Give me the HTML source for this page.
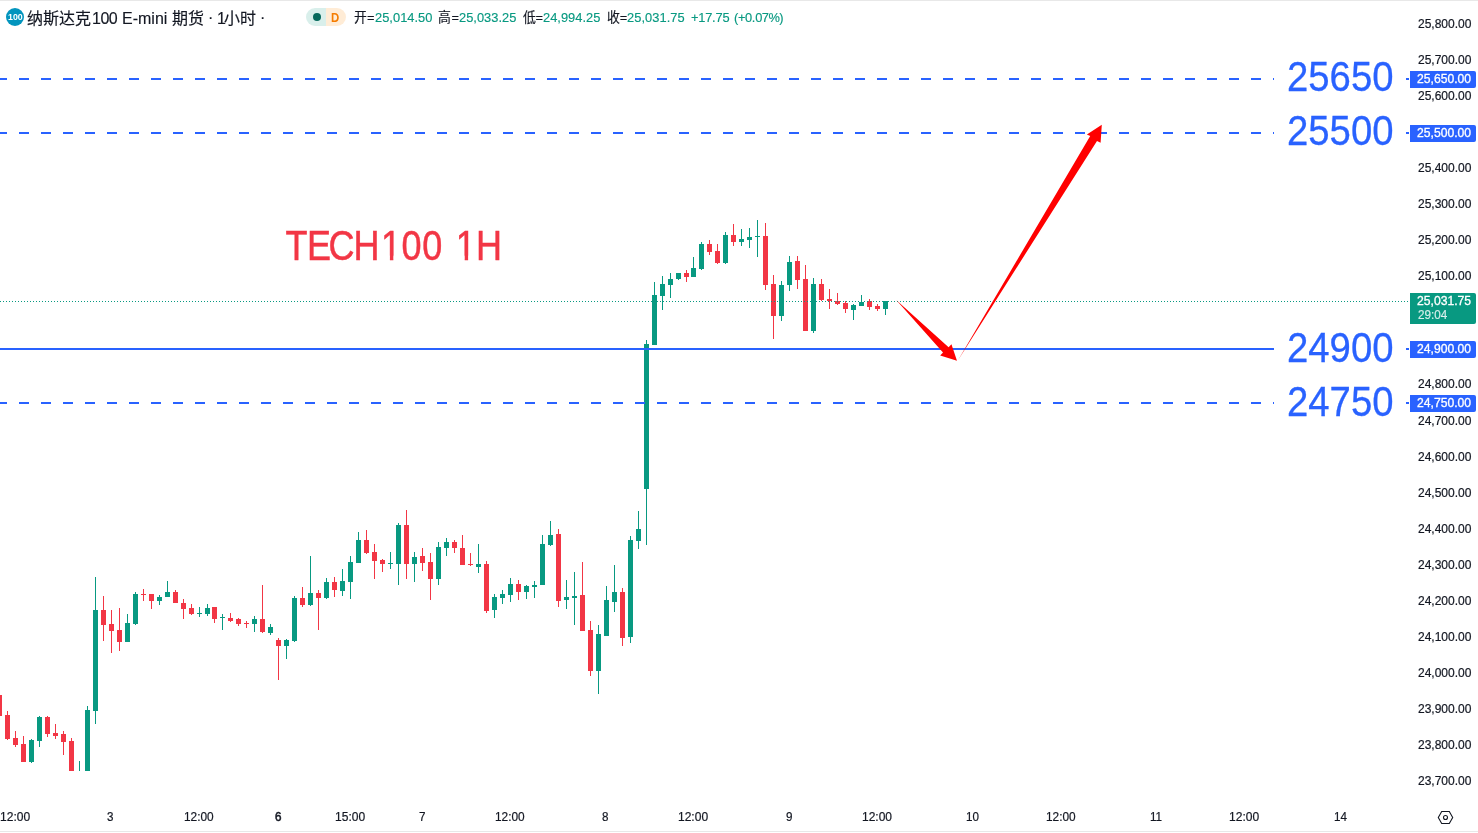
<!DOCTYPE html><html lang="zh-CN"><head><meta charset="utf-8"><title>TECH100 1H</title>
<style>
html,body{margin:0;padding:0;background:#fff;}
body{width:1478px;height:833px;overflow:hidden;position:relative;font-family:"Liberation Sans","Noto Sans CJK SC",sans-serif;color:#131722;}
#app{position:absolute;left:0;top:0;width:1478px;height:833px;overflow:hidden;background:#fff;}
.bt{position:absolute;left:0;top:0;width:1478px;height:1px;background:#e8e8e8;}
.bb{position:absolute;left:0;top:831px;width:1478px;height:1px;background:#e8e8e8;}
svg.chart{position:absolute;left:0;top:0;}
svg.chart text{font-family:"Liberation Sans","Noto Sans CJK SC",sans-serif;white-space:pre;}
.t{position:absolute;white-space:nowrap;line-height:1;transform-origin:0 0;}
.ax,.tm,.bx2{-webkit-text-stroke:0.2px currentColor;}
.bx,.big{-webkit-text-stroke:0.3px currentColor;}
.tmb{-webkit-text-stroke:0.55px currentColor;}
.lab{position:absolute;left:1410px;width:66px;border-radius:0 2px 2px 0;}
.logoc{position:absolute;left:6px;top:8px;width:18px;height:18px;border-radius:50%;background:#0395BE;}
.pill{position:absolute;left:306px;top:8px;width:40px;height:18px;border-radius:9px;overflow:hidden;background:linear-gradient(90deg,#d9efeb 0,#d9efeb 50%,#ffecd6 50%,#ffecd6 100%);}
.pill i{position:absolute;left:7px;top:5px;width:8px;height:8px;border-radius:50%;background:#06695c;}
</style></head><body><div id="app">
<div class="bt"></div><div class="bb"></div>
<svg class="chart" width="1478" height="833" viewBox="0 0 1478 833">
<defs><clipPath id="pane"><rect x="0" y="1" width="1410" height="770"/></clipPath></defs>
<g clip-path="url(#pane)" shape-rendering="crispEdges">
<path class="candles" fill="#089981" d="M31 739h1v24h-1zM29 740h5v22h-5zM39 716h1v31h-1zM37 717h5v24h-5zM79 761h1v29h-1zM77 785h5v5h-5zM87 706h1v84h-1zM85 710h5v80h-5zM95 577h1v147h-1zM93 610h5v101h-5zM127 614h1v28h-1zM125 623h5v19h-5zM135 592h1v33h-1zM133 594h5v30h-5zM159 595h1v10h-1zM157 597h5v4h-5zM167 581h1v16h-1zM165 592h5v5h-5zM199 607h1v10h-1zM197 613h5v1h-5zM207 604h1v12h-1zM205 608h5v6h-5zM222 614h1v16h-1zM220 617h5v1h-5zM254 616h1v16h-1zM252 619h5v5h-5zM270 624h1v11h-1zM268 627h5v6h-5zM286 639h1v20h-1zM284 640h5v6h-5zM294 596h1v46h-1zM292 598h5v43h-5zM310 556h1v50h-1zM308 593h5v12h-5zM326 578h1v21h-1zM324 582h5v16h-5zM342 569h1v27h-1zM340 581h5v10h-5zM350 556h1v43h-1zM348 562h5v20h-5zM358 532h1v31h-1zM356 540h5v23h-5zM390 552h1v17h-1zM388 563h5v1h-5zM398 523h1v62h-1zM396 525h5v39h-5zM414 552h1v30h-1zM412 557h5v7h-5zM438 542h1v43h-1zM436 547h5v32h-5zM446 538h1v18h-1zM444 542h5v6h-5zM478 544h1v29h-1zM476 564h5v3h-5zM494 594h1v24h-1zM492 597h5v13h-5zM502 590h1v14h-1zM500 594h5v4h-5zM510 578h1v24h-1zM508 584h5v11h-5zM526 585h1v14h-1zM524 586h5v6h-5zM534 581h1v17h-1zM532 585h5v2h-5zM542 535h1v50h-1zM540 544h5v41h-5zM550 521h1v25h-1zM548 535h5v10h-5zM566 580h1v29h-1zM564 597h5v3h-5zM574 572h1v53h-1zM572 596h5v2h-5zM598 625h1v69h-1zM596 634h5v37h-5zM606 586h1v50h-1zM604 600h5v36h-5zM614 565h1v47h-1zM612 592h5v10h-5zM630 536h1v107h-1zM628 540h5v97h-5zM638 511h1v38h-1zM636 529h5v12h-5zM646 340h1v205h-1zM644 344h5v145h-5zM654 282h1v63h-1zM652 295h5v50h-5zM662 276h1v34h-1zM660 284h5v12h-5zM670 273h1v25h-1zM668 279h5v6h-5zM678 273h1v7h-1zM676 273h5v6h-5zM693 257h1v20h-1zM691 268h5v9h-5zM701 242h1v28h-1zM699 244h5v25h-5zM725 232h1v32h-1zM723 235h5v28h-5zM741 229h1v17h-1zM739 239h5v3h-5zM749 228h1v20h-1zM747 237h5v3h-5zM757 220h1v37h-1zM755 236h5v1h-5zM781 281h1v40h-1zM779 285h5v31h-5zM789 256h1v35h-1zM787 262h5v23h-5zM813 278h1v55h-1zM811 284h5v47h-5zM853 304h1v16h-1zM851 305h5v5h-5zM861 295h1v11h-1zM859 302h5v4h-5zM885 301h1v14h-1zM883 301h5v8h-5z"/>
<path class="candles" fill="#F23645" d="M-1 695h1v21h-1zM-3 695h5v21h-5zM7 711h1v29h-1zM5 715h5v24h-5zM15 731h1v16h-1zM13 738h5v7h-5zM23 736h1v26h-1zM21 744h5v18h-5zM47 716h1v21h-1zM45 717h5v17h-5zM55 724h1v15h-1zM53 733h5v3h-5zM63 731h1v24h-1zM61 734h5v8h-5zM71 738h1v52h-1zM69 741h5v49h-5zM103 596h1v45h-1zM101 610h5v15h-5zM111 610h1v43h-1zM109 624h5v7h-5zM119 608h1v43h-1zM117 630h5v12h-5zM143 589h1v12h-1zM141 594h5v1h-5zM151 594h1v15h-1zM149 594h5v7h-5zM175 590h1v13h-1zM173 592h5v11h-5zM183 599h1v20h-1zM181 603h5v6h-5zM191 604h1v11h-1zM189 608h5v6h-5zM214 607h1v16h-1zM212 607h5v12h-5zM230 613h1v9h-1zM228 618h5v3h-5zM238 618h1v8h-1zM236 619h5v5h-5zM246 621h1v7h-1zM244 623h5v1h-5zM262 585h1v48h-1zM260 619h5v13h-5zM278 638h1v42h-1zM276 640h5v6h-5zM302 587h1v20h-1zM300 598h5v7h-5zM318 590h1v40h-1zM316 593h5v5h-5zM334 577h1v20h-1zM332 582h5v8h-5zM366 530h1v24h-1zM364 540h5v13h-5zM374 544h1v35h-1zM372 552h5v9h-5zM382 559h1v13h-1zM380 560h5v4h-5zM406 510h1v69h-1zM404 525h5v39h-5zM422 548h1v23h-1zM420 556h5v7h-5zM430 553h1v47h-1zM428 562h5v17h-5zM454 540h1v13h-1zM452 542h5v6h-5zM462 535h1v30h-1zM460 548h5v17h-5zM470 553h1v13h-1zM468 564h5v1h-5zM486 561h1v52h-1zM484 564h5v47h-5zM518 580h1v20h-1zM516 584h5v8h-5zM558 529h1v78h-1zM556 534h5v67h-5zM582 562h1v69h-1zM580 595h5v36h-5zM590 621h1v55h-1zM588 630h5v41h-5zM622 588h1v58h-1zM620 592h5v46h-5zM686 270h1v12h-1zM684 273h5v4h-5zM709 240h1v15h-1zM707 244h5v8h-5zM717 244h1v20h-1zM715 251h5v12h-5zM733 224h1v22h-1zM731 235h5v7h-5zM765 223h1v67h-1zM763 236h5v49h-5zM773 275h1v64h-1zM771 284h5v32h-5zM797 256h1v33h-1zM795 261h5v19h-5zM805 265h1v66h-1zM803 279h5v52h-5zM821 279h1v22h-1zM819 284h5v16h-5zM829 289h1v20h-1zM827 299h5v2h-5zM837 293h1v12h-1zM835 301h5v3h-5zM845 301h1v12h-1zM843 303h5v6h-5zM869 299h1v11h-1zM867 301h5v6h-5zM877 304h1v7h-1zM875 306h5v3h-5z"/>
</g>
<line class="priceline" x1="0" y1="301.5" x2="1409" y2="301.5" stroke="#089981" stroke-width="1" stroke-dasharray="1 2" shape-rendering="crispEdges"/>
<path class="hline" d="M-3 79H1274" stroke="#2962FF" stroke-width="2" stroke-dasharray="10 12" fill="none" shape-rendering="crispEdges"/>
<path class="hline" d="M1406 79H1409" stroke="#2962FF" stroke-width="2" fill="none" shape-rendering="crispEdges"/>
<path class="hline" d="M-3 133H1274" stroke="#2962FF" stroke-width="2" stroke-dasharray="10 12" fill="none" shape-rendering="crispEdges"/>
<path class="hline" d="M1406 133H1409" stroke="#2962FF" stroke-width="2" fill="none" shape-rendering="crispEdges"/>
<path class="hline" d="M0 349H1274" stroke="#2962FF" stroke-width="2" fill="none" shape-rendering="crispEdges"/>
<path class="hline" d="M1406 349H1409" stroke="#2962FF" stroke-width="2" fill="none" shape-rendering="crispEdges"/>
<path class="hline" d="M-3 403H1274" stroke="#2962FF" stroke-width="2" stroke-dasharray="10 12" fill="none" shape-rendering="crispEdges"/>
<path class="hline" d="M1406 403H1409" stroke="#2962FF" stroke-width="2" fill="none" shape-rendering="crispEdges"/>
<polygon class="arrow" fill="#FF0000" points="896.2,300 948.6,347.3 951.45,344.2 956.97,360.8 940.2,355.5 943,352.6"/>
<polygon class="arrow" fill="#FF0000" points="958,360.2 1090.2,136.1 1086.9,134.4 1101.8,124.8 1100.6,142.8 1097,140.9"/>
<g class="icon" fill="none" stroke="#131722" stroke-width="1.1"><path d="M1438.3 817.5l3.4-6h7.6l3.4 6-3.4 6h-7.6z"/><circle cx="1445.5" cy="817.5" r="2"/></g>
<g class="labels">
<clipPath id="nofoot"><path clip-rule="evenodd" d="M0 0H1478V833H0ZM382.19 255.77H389.92V261.40H382.19ZM393.30 255.77H400.72V261.40H393.30ZM456.99 255.77H464.72V261.40H456.99ZM468.10 255.77H475.52V261.40H468.10Z"/></clipPath>
<g clip-path="url(#nofoot)">
<text class="ann" transform="scale(0.86 1)" y="259.9" font-size="41.9" stroke-width="0.5" x="331.95 356.84 381.96 411.08 442.97 466.84 491.08 496.90 529.95 553.38" fill="#F23645" stroke="#F23645">TECH100 1H</text>
</g>
<text class="lg" y="23.8" font-size="16" stroke-width="0.15" x="27.00 43.00 59.00 75.00 92.00 100.38 108.77 112.77 122.00 132.67 138.01 151.35 154.91 163.82 167.82 172.00 188.00 192.00 208.00 212.00 217.00 224.00 240.00 244.00 260.00" dy="0 0 0 0 0 0 0 0 0 0 0 0 0 0 0 0 0 0 -1.3 1.3 0 0 0 0 -1.3" fill="#131722" stroke="#131722">纳斯达克100 E-mini 期货 · 1小时 ·</text>
<text class="oh" transform="scale(0.96 1)" y="22.0" font-size="13.4" stroke-width="0.15"><tspan x="368.75 382.29" fill="#131722" stroke="#131722">开=</tspan><tspan x="390.62 398.10 405.58 409.32 416.81 424.29 431.77 435.50 442.99" fill="#089981" stroke="#089981">25,014.50</tspan></text>
<text class="oh" transform="scale(0.96 1)" y="22.0" font-size="13.4" stroke-width="0.15"><tspan x="456.25 470.42" fill="#131722" stroke="#131722">高=</tspan><tspan x="478.12 485.60 493.08 496.82 504.30 511.79 519.26 523.00 530.48" fill="#089981" stroke="#089981">25,033.25</tspan></text>
<text class="oh" transform="scale(0.96 1)" y="22.0" font-size="13.4" stroke-width="0.15"><tspan x="544.79 557.92" fill="#131722" stroke="#131722">低=</tspan><tspan x="565.62 573.10 580.58 584.32 591.80 599.29 606.76 610.50 617.98" fill="#089981" stroke="#089981">24,994.25</tspan></text>
<text class="oh" transform="scale(0.96 1)" y="22.0" font-size="13.4" stroke-width="0.15"><tspan x="632.29 645.52" fill="#131722" stroke="#131722">收=</tspan><tspan x="653.12 660.64 668.18 671.94 679.48 687.01 694.53 698.29 705.83" fill="#089981" stroke="#089981">25,031.75</tspan></text>
<text class="oh" transform="scale(0.96 1)" y="22.0" font-size="13.4" stroke-width="0.15" x="719.79 727.35 734.56 741.77 745.37 752.59" fill="#089981" stroke="#089981">+17.75</text>
<text class="oh" transform="scale(0.96 1)" y="22.0" font-size="13.4" stroke-width="0.15" x="764.58 768.77 776.11 783.11 786.61 793.61 800.61 811.80" fill="#089981" stroke="#089981">(+0.07%)</text>
</g>
</svg>
<div class="lab" style="top:71px;height:17px;background:#2962FF"></div>
<div class="lab" style="top:125px;height:17px;background:#2962FF"></div>
<div class="lab" style="top:341px;height:17px;background:#2962FF"></div>
<div class="lab" style="top:395px;height:17px;background:#2962FF"></div>
<div class="lab" style="top:293px;height:31px;background:#089981"></div>
<div class="logoc"></div>
<div class="pill"><i></i></div>
<div class="price-axis">
<span class="t ax" style="left:1418px;top:18px;font-size:12px;color:#131722;">25,800.00</span>
<span class="t ax" style="left:1418px;top:54px;font-size:12px;color:#131722;">25,700.00</span>
<span class="t ax" style="left:1418px;top:90px;font-size:12px;color:#131722;">25,600.00</span>
<span class="t ax" style="left:1418px;top:162px;font-size:12px;color:#131722;">25,400.00</span>
<span class="t ax" style="left:1418px;top:198px;font-size:12px;color:#131722;">25,300.00</span>
<span class="t ax" style="left:1418px;top:234px;font-size:12px;color:#131722;">25,200.00</span>
<span class="t ax" style="left:1418px;top:270px;font-size:12px;color:#131722;">25,100.00</span>
<span class="t ax" style="left:1418px;top:378px;font-size:12px;color:#131722;">24,800.00</span>
<span class="t ax" style="left:1418px;top:415px;font-size:12px;color:#131722;">24,700.00</span>
<span class="t ax" style="left:1418px;top:451px;font-size:12px;color:#131722;">24,600.00</span>
<span class="t ax" style="left:1418px;top:487px;font-size:12px;color:#131722;">24,500.00</span>
<span class="t ax" style="left:1418px;top:523px;font-size:12px;color:#131722;">24,400.00</span>
<span class="t ax" style="left:1418px;top:559px;font-size:12px;color:#131722;">24,300.00</span>
<span class="t ax" style="left:1418px;top:595px;font-size:12px;color:#131722;">24,200.00</span>
<span class="t ax" style="left:1418px;top:631px;font-size:12px;color:#131722;">24,100.00</span>
<span class="t ax" style="left:1418px;top:667px;font-size:12px;color:#131722;">24,000.00</span>
<span class="t ax" style="left:1418px;top:703px;font-size:12px;color:#131722;">23,900.00</span>
<span class="t ax" style="left:1418px;top:739px;font-size:12px;color:#131722;">23,800.00</span>
<span class="t ax" style="left:1418px;top:775px;font-size:12px;color:#131722;">23,700.00</span>
<span class="t bx" style="left:1417px;top:73px;font-size:12px;color:#fff;transform:scaleX(1.0128);">25,650.00</span>
<span class="t bx" style="left:1417px;top:127px;font-size:12px;color:#fff;transform:scaleX(1.0128);">25,500.00</span>
<span class="t bx" style="left:1417px;top:343px;font-size:12px;color:#fff;transform:scaleX(1.0128);">24,900.00</span>
<span class="t bx" style="left:1417px;top:397px;font-size:12px;color:#fff;transform:scaleX(1.0128);">24,750.00</span>
<span class="t bx" style="left:1417px;top:295px;font-size:12px;color:#fff;transform:scaleX(1.0128);">25,031.75</span>
<span class="t bx2" style="left:1418px;top:309px;font-size:12px;color:rgba(255,255,255,0.78);transform:scaleX(0.9720);">29:04</span>
</div>
<div class="time-axis">
<span class="t tm" style="left:0px;top:811px;font-size:12px;color:#131722;transform:scaleX(1.0041);">12:00</span>
<span class="t tm" style="left:107px;top:811px;font-size:12px;color:#131722;transform:scaleX(0.9700);">3</span>
<span class="t tm" style="left:184px;top:811px;font-size:12px;color:#131722;transform:scaleX(0.9896);">12:00</span>
<span class="t tmb" style="left:275px;top:811px;font-size:12px;color:#131722;transform:scaleX(0.9700);">6</span>
<span class="t tm" style="left:335px;top:811px;font-size:12px;color:#131722;transform:scaleX(1.0041);">15:00</span>
<span class="t tm" style="left:419px;top:811px;font-size:12px;color:#131722;transform:scaleX(0.9700);">7</span>
<span class="t tm" style="left:495px;top:811px;font-size:12px;color:#131722;transform:scaleX(0.9896);">12:00</span>
<span class="t tm" style="left:602px;top:811px;font-size:12px;color:#131722;transform:scaleX(0.9700);">8</span>
<span class="t tm" style="left:678px;top:811px;font-size:12px;color:#131722;transform:scaleX(1.0015);">12:00</span>
<span class="t tm" style="left:786px;top:811px;font-size:12px;color:#131722;transform:scaleX(0.9700);">9</span>
<span class="t tm" style="left:862px;top:811px;font-size:12px;color:#131722;">12:00</span>
<span class="t tm" style="left:966px;top:811px;font-size:12px;color:#131722;transform:scaleX(0.9700);">10</span>
<span class="t tm" style="left:1046px;top:811px;font-size:12px;color:#131722;transform:scaleX(0.9896);">12:00</span>
<span class="t tm" style="left:1150px;top:811px;font-size:12px;color:#131722;transform:scaleX(0.9700);">11</span>
<span class="t tm" style="left:1229px;top:811px;font-size:12px;color:#131722;transform:scaleX(1.0041);">12:00</span>
<span class="t tm" style="left:1334px;top:811px;font-size:12px;color:#131722;transform:scaleX(0.9700);">14</span>
</div>
<div class="level-labels">
<span class="t big" style="left:1287px;top:55px;font-size:43px;color:#2962FF;transform:scaleX(0.8905);">25650</span>
<span class="t big" style="left:1287px;top:109px;font-size:43px;color:#2962FF;transform:scaleX(0.8905);">25500</span>
<span class="t big" style="left:1287px;top:326px;font-size:43px;color:#2962FF;transform:scaleX(0.8905);">24900</span>
<span class="t big" style="left:1287px;top:380px;font-size:43px;color:#2962FF;transform:scaleX(0.8905);">24750</span>
</div>
<div class="legend">
<span class="t logo" style="left:8px;top:13px;font-size:8.5px;color:#fff;font-weight:700;transform:scaleX(1.0405);">100</span>
<span class="t pd" style="left:331px;top:11px;font-size:13px;color:#F57C00;font-weight:700;transform:scaleX(0.8780);">D</span>
</div>
</div></body></html>
